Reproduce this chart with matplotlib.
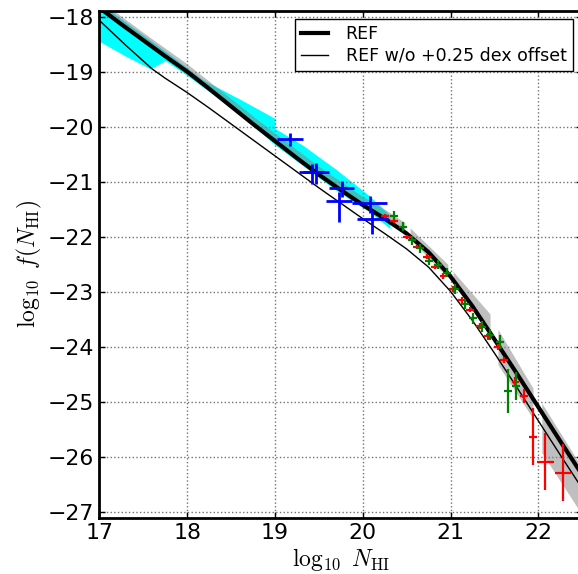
import numpy as np
import matplotlib
matplotlib.use("Agg")
import matplotlib.pyplot as plt
from matplotlib.lines import Line2D

# ---------------- data ----------------
ref_x = [17.0, 17.25, 17.5, 17.75, 18.0, 18.25, 18.5, 18.75, 19.0, 19.25, 19.5, 19.75,
         20.0, 20.25, 20.5, 20.75, 21.0, 21.25, 21.5, 21.75, 22.0, 22.25, 22.5]
ref_y = [-17.84, -18.14, -18.43, -18.72, -19.00, -19.31, -19.63, -19.95, -20.26, -20.57, -20.87, -21.15,
         -21.42, -21.67, -21.94, -22.28, -22.72, -23.26, -23.86, -24.47, -25.09, -25.71, -26.32]

nooff_x = [17.0, 17.3, 17.6, 17.75, 18.0, 18.25, 18.5, 18.75, 19.0, 19.25, 19.5, 19.75,
           20.0, 20.25, 20.5, 20.75, 21.0, 21.25, 21.5, 21.75, 22.0, 22.25, 22.5]
nooff_y = [-18.07, -18.52, -18.95, -19.12, -19.38, -19.66, -19.95, -20.24, -20.53, -20.82, -21.11, -21.39,
           -21.67, -21.94, -22.22, -22.55, -22.99, -23.52, -24.11, -24.72, -25.34, -25.96, -26.57]

# cyan constraint regions
cyan1_x = [17.0, 17.3, 17.58, 17.75, 18.0, 18.18, 18.6, 19.0]
cyan1_hi = [-17.75, -18.10, -18.43, -18.63, -18.93, -19.15, -19.5, -19.85]
cyan1_lo = [-18.45, -18.72, -18.95, -18.80, -19.07, -19.28, -19.77, -20.33]
cyan2_x = [19.0, 19.32, 19.70, 20.08, 20.31]
cyan2_hi = [-20.03, -20.34, -20.78, -21.26, -21.61]
cyan2_lo = [-20.33, -20.71, -21.16, -21.55, -21.85]

# grey band segments (x, lower, upper)
grey_segments = [
    ([17.0, 17.5, 18.0, 18.5, 19.0, 19.5, 20.0, 20.25, 20.48],
     [-17.87, -18.46, -19.03, -19.66, -20.29, -20.90, -21.45, -21.70, -21.95],
     [-17.70, -18.29, -18.86, -19.49, -20.12, -20.72, -21.27, -21.50, -21.74]),
    ([20.54, 20.97], [-22.04, -22.74], [-21.84, -22.50]),
    ([21.03, 21.45], [-22.83, -23.78], [-22.63, -23.40]),
    ([21.54, 21.94], [-24.32, -25.30], [-23.68, -24.75]),
    ([22.04, 22.5], [-25.92, -27.05], [-25.02, -26.20]),
]

# blue points
blue_x = [19.17, 19.42, 19.47, 19.76, 19.73, 20.08, 20.11]
blue_y = [-20.23, -20.83, -20.82, -21.12, -21.35, -21.39, -21.68]
blue_xerr = [0.15, 0.14, 0.15, 0.145, 0.15, 0.20, 0.18]
blue_yerr_lo = [0.13, 0.22, 0.22, 0.16, 0.38, 0.18, 0.26]
blue_yerr_hi = [0.12, 0.16, 0.16, 0.14, 0.17, 0.14, 0.16]

# red points
red_x = [20.25, 20.36, 20.50, 20.62, 20.73, 20.82, 20.92, 21.03, 21.13, 21.22, 21.34, 21.43, 21.54, 21.61, 21.74, 21.84, 21.94, 22.08, 22.28]
red_y = [-21.62, -21.71, -22.0, -22.18, -22.36, -22.54, -22.71, -22.95, -23.15, -23.32, -23.62, -23.81, -24.0, -24.24, -24.63, -24.89, -25.63, -26.08, -26.28]
red_xerr = [0.045] * 16 + [0.045, 0.10, 0.095]
red_yerr = [0.04, 0.04, 0.04, 0.04, 0.04, 0.04, 0.05, 0.05, 0.05, 0.05, 0.05, 0.06, 0.06, 0.06, 0.09, 0.12, 0.52, 0.52, 0.52]

# green points
green_x = [20.36, 20.46, 20.56, 20.65, 20.76, 20.86, 20.96, 21.05, 21.17, 21.26, 21.36, 21.45, 21.56, 21.66, 21.75]
green_y = [-21.62, -21.82, -22.06, -22.21, -22.44, -22.51, -22.65, -22.94, -23.22, -23.48, -23.63, -23.78, -23.91, -24.8, -24.71]
green_xerr = [0.045] * 15
green_yerr = [0.08, 0.08, 0.08, 0.08, 0.08, 0.08, 0.08, 0.09, 0.09, 0.1, 0.1, 0.1, 0.12, 0.4, 0.25]

legend_labels = ["REF", "REF w/o +0.25 dex offset"]
xticks = [17, 18, 19, 20, 21, 22]
yticks = [-27, -26, -25, -24, -23, -22, -21, -20, -19, -18]

# ---------------- plot ----------------
plt.rcParams['mathtext.fontset'] = 'cm'
plt.rcParams['font.family'] = ['DejaVu Sans']

W, H = 578, 574
fig = plt.figure(figsize=(W / 100, H / 100), dpi=100)
left, right, top, bottom = 99.3, 582.2, 11.0, 517.7
ax = fig.add_axes([left / W, (H - bottom) / H, (right - left) / W, (bottom - top) / H])

ax.fill_between(cyan1_x, cyan1_lo, cyan1_hi, color='#00ffff', lw=0, zorder=1)
ax.fill_between(cyan2_x, cyan2_lo, cyan2_hi, color='#00ffff', lw=0, zorder=1)
for gx, glo, ghi in grey_segments:
    ax.fill_between(gx, glo, ghi, color='grey', alpha=0.5, lw=0, zorder=2)

ax.plot(nooff_x, nooff_y, color='k', lw=1.0, zorder=3)
ax.plot(ref_x, ref_y, color='k', lw=3.0, zorder=3)

ax.errorbar(blue_x, blue_y, xerr=blue_xerr, yerr=[blue_yerr_lo, blue_yerr_hi],
            fmt='none', ecolor='#0000ff', elinewidth=2.0, capsize=0, zorder=4)
ax.errorbar(red_x, red_y, xerr=red_xerr, yerr=red_yerr,
            fmt='none', ecolor='#ff0000', elinewidth=1.6, capsize=0, zorder=4)
ax.errorbar(green_x, green_y, xerr=green_xerr, yerr=green_yerr,
            fmt='none', ecolor='#008000', elinewidth=1.6, capsize=0, zorder=4)

ax.set_xlim(17, 22.5)
ax.set_ylim(-27.1, -17.9)
ax.set_xticks(xticks)
ax.set_yticks(yticks)
ax.tick_params(direction='in', length=4, width=1, labelsize=15.8, pad=4,
               top=True, right=True)
ax.grid(True, color='0.45', ls=':', lw=1.0)
for s in ax.spines.values():
    s.set_linewidth(2.0)

ax.set_xlabel(r'$\log_{10}\ N_{\rm HI}$', fontsize=17, labelpad=2)
ax.set_ylabel(r'$\log_{10}\ f(N_{\rm HI})$', fontsize=17, labelpad=2)

handles = [Line2D([], [], color='k', lw=3), Line2D([], [], color='k', lw=1)]
leg = ax.legend(handles, legend_labels, loc='upper right',
                bbox_to_anchor=((572.7 - left) / (right - left), (bottom - 19.3) / (bottom - top)),
                borderaxespad=0, fontsize=12.5, fancybox=False, framealpha=1,
                edgecolor='k', handlelength=1.55, handletextpad=1.0,
                labelspacing=0.2, borderpad=0.35)
leg.get_frame().set_linewidth(1.0)

fig.savefig('out.png', dpi=100)
